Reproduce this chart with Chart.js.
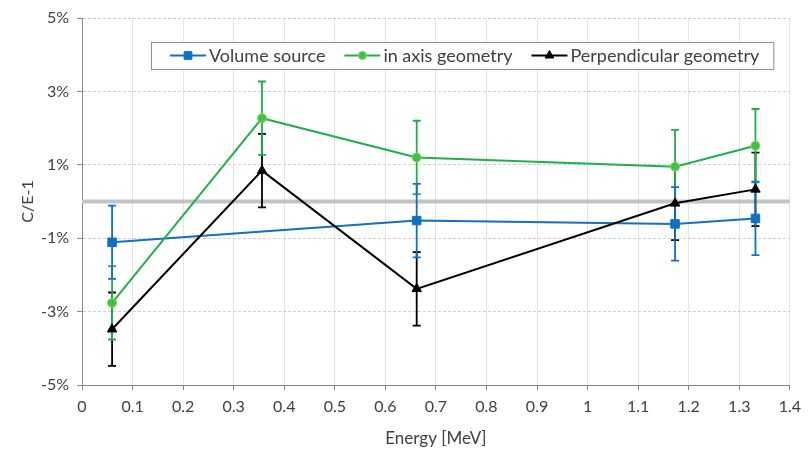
<!DOCTYPE html>
<html lang="en">
<head>
<meta charset="UTF-8">
<title>C/E-1 vs Energy</title>
<script src="https://cdn.jsdelivr.net/npm/chart.js"></script>
<style>
    body { margin: 0; background: #fff; }
    #wrap { width: 808px; height: 449px; }
</style>
</head>
<body>
<div id="wrap"><canvas id="chart" width="808" height="449"></canvas></div>
<script>
    // gamma line energies [MeV] and C/E-1 [%] with their uncertainties
    const volumeEnergy = [0.0595, 0.662, 1.173, 1.332];
    const volumeValues = [-1.11, -0.52, -0.61, -0.46];
    const volumeErrors = [1, 1, 1, 1];

    const axisEnergy = [0.0595, 0.356, 0.662, 1.173, 1.332];
    const axisValues = [-2.76, 2.27, 1.20, 0.95, 1.52];
    const axisErrors = [1, 1, 1, 1, 1];

    const perpEnergy = [0.0595, 0.356, 0.662, 1.173, 1.332];
    const perpValues = [-3.48, 0.84, -2.38, -0.05, 0.33];
    const perpErrors = [1, 1, 1, 1, 1];

    const seriesLabels = ['Volume source', 'in axis geometry', 'Perpendicular geometry'];
    const xRange = [0, 1.4, 0.1];
    const yRange = [-5, 5, 2];

    const FONT = 'Lato, "Open Sans", sans-serif';
    const TEXT = '#404040';

    function points(xs, ys) {
        return xs.map((x, i) => ({ x: x, y: ys[i] }));
    }

    // thick reference line at zero plus vertical error bars
    const errorBars = {
        id: 'errorBars',
        beforeDatasetsDraw(chart) {
            const { ctx, chartArea, scales } = chart;
            const y0 = scales.y.getPixelForValue(0);
            ctx.save();
            ctx.strokeStyle = '#c3c3c3';
            ctx.lineWidth = 4;
            ctx.beginPath();
            ctx.moveTo(chartArea.left, y0);
            ctx.lineTo(chartArea.right, y0);
            ctx.stroke();

            const sets = chart.data.datasets.map((d, i) => i).reverse();
            sets.forEach(i => {
                const ds = chart.data.datasets[i];
                ctx.strokeStyle = ds.borderColor;
                ctx.lineWidth = 1.8;
                ds.data.forEach((p, j) => {
                    const e = ds.errors[j];
                    const x = scales.x.getPixelForValue(p.x);
                    const yt = scales.y.getPixelForValue(p.y + e);
                    const yb = scales.y.getPixelForValue(p.y - e);
                    ctx.beginPath();
                    ctx.moveTo(x, yt); ctx.lineTo(x, yb);
                    ctx.moveTo(x - 4, yt); ctx.lineTo(x + 4, yt);
                    ctx.moveTo(x - 4, yb); ctx.lineTo(x + 4, yb);
                    ctx.stroke();
                });
            });
            ctx.restore();
        }
    };

    function drawMarker(ctx, style, x, y, r) {
        if (style === 'rect') {
            const s = Math.SQRT1_2 * r;
            ctx.rect(x - s, y - s, 2 * s, 2 * s);
        } else if (style === 'triangle') {
            ctx.moveTo(x, y - r);
            ctx.lineTo(x + r * 0.866, y + r * 0.5);
            ctx.lineTo(x - r * 0.866, y + r * 0.5);
            ctx.closePath();
        } else {
            ctx.arc(x, y, r, 0, Math.PI * 2);
        }
    }

    // boxed legend inside the plot, line + marker for each series
    const boxLegend = {
        id: 'boxLegend',
        afterDraw(chart) {
            const { ctx, chartArea } = chart;
            const left = chartArea.left + 69;
            const top = chartArea.top + 24;
            const h = 27;
            ctx.save();
            ctx.font = '18px ' + FONT;
            const widths = chart.data.datasets.map(d => ctx.measureText(d.label).width);
            const total = 19 + widths.reduce((a, w) => a + 39 + w, 0) + 19 * (widths.length - 1) + 14;
            ctx.fillStyle = '#fff';
            ctx.fillRect(left, top, total, h);
            ctx.strokeStyle = '#8c8c8c';
            ctx.lineWidth = 1;
            ctx.strokeRect(left + 0.5, top + 0.5, total, h);

            let x = left + 19;
            const yc = top + h / 2;
            chart.data.datasets.forEach((d, i) => {
                ctx.strokeStyle = d.borderColor;
                ctx.lineWidth = 2;
                ctx.beginPath();
                ctx.moveTo(x, yc); ctx.lineTo(x + 36, yc);
                ctx.stroke();
                ctx.fillStyle = d.pointBackgroundColor;
                ctx.strokeStyle = d.pointBorderColor;
                ctx.lineWidth = d.pointBorderWidth;
                ctx.beginPath();
                drawMarker(ctx, d.pointStyle, x + 18, yc, d.pointRadius - 0.5);
                ctx.fill();
                ctx.stroke();
                ctx.fillStyle = TEXT;
                ctx.textBaseline = 'middle';
                ctx.fillText(d.label, x + 39, yc + 1);
                x += 39 + widths[i] + 19;
            });
            ctx.restore();
        }
    };

    const ctx = document.getElementById('chart').getContext('2d');
    new Chart(ctx, {
        type: 'line',
        data: {
            datasets: [{
                label: seriesLabels[0],
                data: points(volumeEnergy, volumeValues),
                errors: volumeErrors,
                borderColor: '#1070c4',
                backgroundColor: '#1070c4',
                pointBackgroundColor: '#1070c4',
                pointBorderColor: '#1070c4',
                pointStyle: 'rect',
                pointRadius: 6,
                pointBorderWidth: 1,
                borderWidth: 2,
                order: 3
            }, {
                label: seriesLabels[1],
                data: points(axisEnergy, axisValues),
                errors: axisErrors,
                borderColor: '#1fb04b',
                backgroundColor: '#1fb04b',
                pointBackgroundColor: '#3cc44a',
                pointBorderColor: '#8fd150',
                pointStyle: 'circle',
                pointRadius: 4.5,
                pointBorderWidth: 1,
                borderWidth: 2,
                order: 2
            }, {
                label: seriesLabels[2],
                data: points(perpEnergy, perpValues),
                errors: perpErrors,
                borderColor: '#000000',
                backgroundColor: '#000000',
                pointBackgroundColor: '#000000',
                pointBorderColor: '#000000',
                pointStyle: 'triangle',
                pointRadius: 5.5,
                pointBorderWidth: 1,
                borderWidth: 2,
                order: 1
            }]
        },
        options: {
            responsive: false,
            animation: false,
            layout: { padding: { left: 18, right: 9, top: 18, bottom: 0 } },
            plugins: {
                legend: { display: false },
                tooltip: { enabled: false }
            },
            scales: {
                x: {
                    type: 'linear',
                    min: xRange[0],
                    max: xRange[1],
                    afterFit(scale) { scale.height = 64; },
                    ticks: {
                        stepSize: xRange[2],
                        color: TEXT,
                        font: { family: FONT, size: 16 },
                        padding: 7,
                        callback: v => String(Number(v.toFixed(1)))
                    },
                    grid: { color: '#e4e4e4', tickColor: '#868686', tickLength: 5 },
                    border: { color: '#868686', width: 1 },
                    title: {
                        display: true,
                        text: 'Energy [MeV]',
                        color: TEXT,
                        font: { family: FONT, size: 17 },
                        padding: { top: 0, bottom: 0 }
                    }
                },
                y: {
                    min: yRange[0],
                    max: yRange[1],
                    afterFit(scale) { scale.width = 64; },
                    ticks: {
                        stepSize: yRange[2],
                        color: TEXT,
                        font: { family: FONT, size: 16 },
                        padding: 8,
                        callback: v => v + '%'
                    },
                    grid: { color: '#cfcfcf', tickColor: '#868686', tickLength: 5 },
                    border: { color: '#868686', width: 1, dash: [3, 2] },
                    title: {
                        display: true,
                        text: 'C/E-1',
                        color: TEXT,
                        font: { family: FONT, size: 16 },
                        padding: { top: 0, bottom: 0 }
                    }
                }
            }
        },
        plugins: [errorBars, boxLegend]
    });
</script>
</body>
</html>
